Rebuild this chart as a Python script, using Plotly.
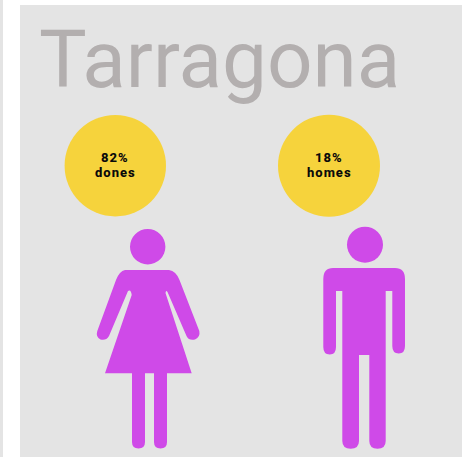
import plotly.graph_objects as go

title = "Tarragona"
percent = [82, 18]
groups = ["dones", "homes"]

BG = "#e4e4e4"
YEL = "#f6d33c"
MAG = "#cf4ae8"
GREY = "#b3afaf"

woman_body = ("M125,270 L169,270 Q176,271 179.5,280 L199.3,331 Q200.5,337 195,339.5 Q189,341 186.5,336 "
              "L167.5,292 Q166,289.5 165.5,293 L191.7,373.3 L167,373.3 L167,442 Q167,448.5 160.5,448.5 "
              "Q154,448.5 154,442 L154,373.3 L145,373.3 L145,442 Q145,448.5 138.5,448.5 Q132,448.5 132,442 "
              "L132,373.3 L105,373.3 L131.7,295 Q131,289 128,291 L109,336 Q106,341 100.5,339.5 Q95.5,337 97.3,331 "
              "L116,280 Q119.5,271 125,270 Z")
man_body = ("M333,268 L395,268 Q405,268 405,279 L405,346 Q405,353.5 398.7,353.5 Q392.3,353.5 392.3,346 L392.3,291 "
            "L385.7,291 L385.7,441 Q385.7,448.7 377.5,448.7 Q369.3,448.7 369.3,441 L369.3,355 L359,355 L359,441 "
            "Q359,448.7 350.7,448.7 Q342.3,448.7 342.3,441 L342.3,291 L336,291 L336,347 Q336,354.5 329.7,354.5 "
            "Q323.3,354.5 323.3,347 L323.3,279 Q323.3,268 333,268 Z")

def circle(cx, cy, r, color):
    return dict(type="circle", xref="x", yref="y", x0=cx-r, x1=cx+r, y0=cy-r, y1=cy+r,
                fillcolor=color, line=dict(width=0), layer="below")

def rect(x0, y0, x1, y1, color):
    return dict(type="rect", xref="x", yref="y", x0=x0, x1=x1, y0=y0, y1=y1,
                fillcolor=color, line=dict(width=0), layer="below")

shapes = [
    rect(0, 0, 3, 457, BG),
    rect(20, 5, 462, 457, BG),
    circle(115.3, 165.7, 50.7, YEL),
    circle(329, 165.7, 51, YEL),
    circle(147.7, 246.7, 17.7, MAG),
    circle(365, 244.7, 18, MAG),
    dict(type="path", path=woman_body, fillcolor=MAG, line=dict(width=0), layer="below"),
    dict(type="path", path=man_body, fillcolor=MAG, line=dict(width=0), layer="below"),
]

annotations = [dict(x=219, y=60, xref="x", yref="y", text=title, showarrow=False,
                    font=dict(family="Roboto", size=80, color=GREY, weight=400),
                    xanchor="center", yanchor="middle")]
for cx, p, g in zip([115, 329], percent, groups):
    for ly, line in zip([157, 172], [f"{p}%", g]):
        annotations.append(dict(
            x=cx, y=ly, xref="x", yref="y", showarrow=False, align="center",
            text=f'<span style="letter-spacing:1px">{line}</span>',
            font=dict(family="Roboto", size=13, color="#0a0a0a", weight=800),
            xanchor="center", yanchor="middle"))

fig = go.Figure()
fig.update_layout(
    width=462, height=457, margin=dict(l=0, r=0, t=0, b=0),
    paper_bgcolor="white", plot_bgcolor="white", showlegend=False,
    xaxis=dict(range=[0, 462], visible=False, fixedrange=True),
    yaxis=dict(range=[457, 0], visible=False, fixedrange=True),
    shapes=shapes, annotations=annotations,
)
fig.write_html("out.html", config={"displayModeBar": False},
               post_script="document.body.style.margin='0';document.body.style.overflow='hidden';")
